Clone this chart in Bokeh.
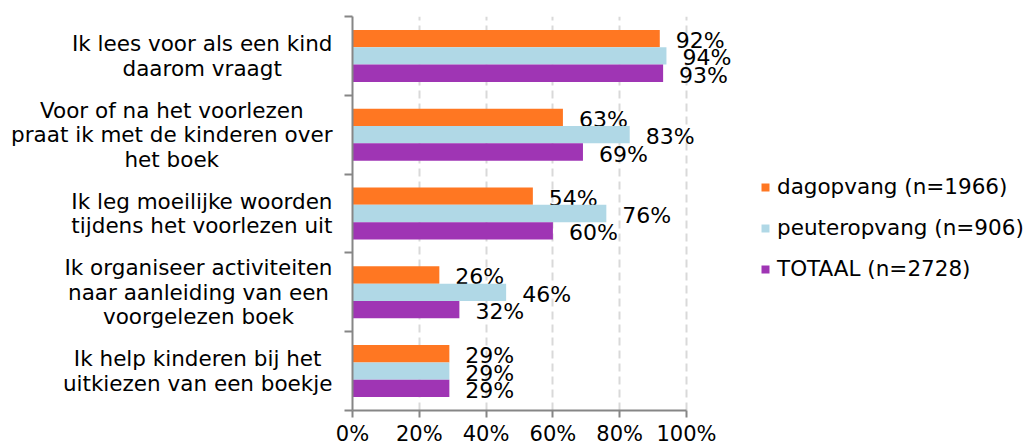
from bokeh.plotting import figure
from bokeh.layouts import row
from bokeh.models import Range1d, FixedTicker, Legend, LegendItem, ColumnDataSource
from bokeh.transform import dodge
from bokeh.core.properties import value
from bokeh.embed import file_html
from bokeh.resources import INLINE

categories = [
    "Ik lees voor als een kind\ndaarom vraagt",
    "Voor of na het voorlezen\npraat ik met de kinderen over\nhet boek",
    "Ik leg moeilijke woorden\ntijdens het voorlezen uit",
    "Ik organiseer activiteiten\nnaar aanleiding van een\nvoorgelezen boek",
    "Ik help kinderen bij het\nuitkiezen van een boekje",
]
dagopvang = [92, 63, 54, 26, 29]
peuteropvang = [94, 83, 76, 46, 29]
totaal = [93, 69, 60, 32, 29]
series_names = ["dagopvang (n=1966)", "peuteropvang (n=906)", "TOTAAL (n=2728)"]
series_colors = ["#FF7722", "#B0D8E6", "#9F35B4"]
x_ticks = [0, 20, 40, 60, 80, 100]
x_tick_labels = ["0%", "20%", "40%", "60%", "80%", "100%"]

FONT = "DejaVu Sans"
FS = "21px"
AXIS_GRAY = "#868686"
TOP, BOTTOM = 16, 37
LEFT_W = 334
MAIN_W = 1023 - LEFT_W

n = len(categories)
ypos = [n - 0.5 - i for i in range(n)]
yr = Range1d(0, n)

src = ColumnDataSource(dict(
    y=ypos, cat=categories,
    dag=dagopvang, peu=peuteropvang, tot=totaal,
    dag_lbl=[f"{v}%" for v in dagopvang],
    peu_lbl=[f"{v}%" for v in peuteropvang],
    tot_lbl=[f"{v}%" for v in totaal],
))

# left panel with the category labels
lp = figure(width=LEFT_W, height=448, output_backend="svg", toolbar_location=None,
            x_range=Range1d(0, LEFT_W), y_range=yr, x_axis_type=None, y_axis_type=None,
            min_border_left=0, min_border_right=0, min_border_top=TOP, min_border_bottom=BOTTOM)
lp.outline_line_color = None
lp.grid.visible = False
lp.text(x=LEFT_W - 2, y="y", text="cat", source=src, anchor="center_right",
        text_align="center", text_baseline="middle", text_line_height=0.98,
        text_font=value(FONT), text_font_size=value("21.5px"), text_color="black")

frame_left = 352 - LEFT_W
p = figure(width=MAIN_W, height=448, output_backend="svg", toolbar_location=None,
           x_range=Range1d(0, (MAIN_W - frame_left) / 3.34), y_range=yr,
           min_border_left=frame_left, min_border_right=0, min_border_top=TOP, min_border_bottom=BOTTOM)
p.outline_line_color = None
p.background_fill_color = "white"
p.ygrid.visible = False
p.xgrid.ticker = FixedTicker(ticks=x_ticks[1:])
p.xgrid.grid_line_color = "#D9D9D9"
p.xgrid.grid_line_width = 2
p.xgrid.grid_line_dash = "8 5"

xa = p.xaxis[0]
xa.ticker = FixedTicker(ticks=x_ticks)
xa.bounds = (0, 100)
xa.major_label_overrides = {t: l for t, l in zip(x_ticks, x_tick_labels)}
xa.axis_line_color = AXIS_GRAY
xa.axis_line_width = 2
xa.major_tick_line_color = AXIS_GRAY
xa.major_tick_line_width = 2
xa.major_tick_out = 7
xa.major_tick_in = 0
xa.minor_tick_line_color = None
xa.major_label_text_font = FONT
xa.major_label_text_font_size = FS
xa.major_label_text_color = "black"
xa.major_label_standoff = 4

ya = p.yaxis[0]
ya.ticker = FixedTicker(ticks=list(range(n + 1)))
ya.major_label_overrides = {i: "" for i in range(n + 1)}
ya.major_label_text_font_size = "0px"
ya.major_label_standoff = 0
ya.axis_line_color = AXIS_GRAY
ya.axis_line_width = 2
ya.major_tick_line_color = AXIS_GRAY
ya.major_tick_line_width = 2
ya.major_tick_out = 8
ya.major_tick_in = 0
ya.minor_tick_line_color = None

off = 0.22
cols = [("dag", off), ("peu", 0.0), ("tot", -off)]
renderers = []
for (col, o), color in zip(cols, series_colors):
    r = p.hbar(y=dodge("y", o, range=yr), left=0, right=col, height=0.22,
               source=src, fill_color=color, line_color=None)
    renderers.append(r)
    p.text(x=col, y=dodge("y", o, range=yr), text=col + "_lbl", source=src,
           x_offset=16, y_offset=2, text_align="left", text_baseline="middle",
           text_font=value(FONT), text_font_size=value("22px"), text_color="black")

legend = Legend(items=[LegendItem(label=nm, renderers=[r]) for nm, r in zip(series_names, renderers)],
                location=(408, 129), orientation="vertical",
                glyph_width=10, glyph_height=10, label_standoff=7,
                label_height=25, spacing=16, padding=0, margin=0,
                label_text_font=FONT, label_text_font_size="21.5px", label_text_color="black",
                border_line_color=None, background_fill_alpha=0)
p.add_layout(legend, "center")

layout = row(lp, p, spacing=0)
open("out.html", "w").write(file_html(layout, INLINE))
